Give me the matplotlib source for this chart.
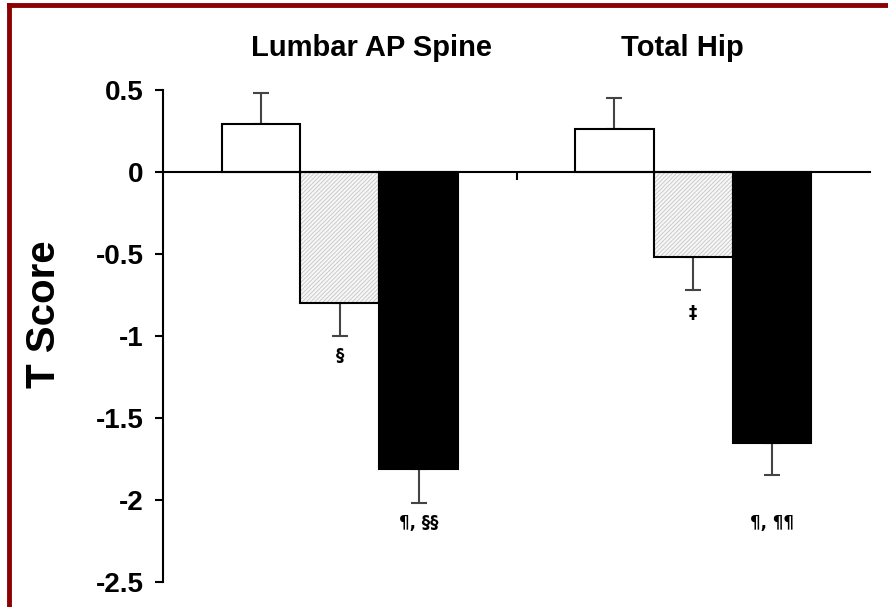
import matplotlib.pyplot as plt
import numpy as np
from matplotlib.lines import Line2D

plt.rcParams['font.family'] = ['Liberation Sans', 'DejaVu Sans']
plt.rcParams['hatch.linewidth'] = 0.5

sites = ["Lumbar AP Spine", "Total Hip"]
means = {
    "white": [0.29, 0.26],
    "hatched": [-0.80, -0.52],
    "black": [-1.81, -1.65],
}
errors = {
    "white": [0.19, 0.19],
    "hatched": [0.20, 0.20],
    "black": [0.21, 0.20],
}
marks = {
    "hatched": ["§", "‡"],
    "black": ["¶, §§", "¶, ¶¶"],
}
mark_y = {
    "hatched": [-1.12, -0.86],
    "black": [-2.14, -2.14],
}

fig = plt.figure(figsize=(8.88, 6.07), dpi=100)
ax = fig.add_axes([0.1836, 0.0412, 0.7961, 0.8105])

centers = np.array([0.5, 1.5])
w = 0.223
face = {"white": "white", "hatched": "#f6f6f6", "black": "black"}
offsets = {"white": -w, "hatched": 0.0, "black": w}

for key in ["white", "hatched", "black"]:
    x = centers + offsets[key]
    vals = np.array(means[key])
    if key == "hatched":
        # light hatch first, then a black outline on top
        ax.bar(x, vals, width=w, color=face[key], hatch="////////",
               edgecolor="#bdbdbd", linewidth=0, zorder=2)
        ax.bar(x, vals, width=w, fill=False, edgecolor="black",
               linewidth=1.5, zorder=3)
    else:
        ax.bar(x, vals, width=w, color=face[key], edgecolor="black",
               linewidth=1.5, zorder=2)
    err = np.array(errors[key])
    lower = np.where(vals < 0, err, 0)
    upper = np.where(vals > 0, err, 0)
    ax.errorbar(x, vals, yerr=[lower, upper], fmt="none", ecolor="#444444",
                elinewidth=1.5, capsize=6, capthick=1.5, zorder=1)
    if key in marks:
        for xi, my, m in zip(x, mark_y[key], marks[key]):
            ax.text(xi, my, m, ha="center", va="center", fontsize=12,
                    fontweight="bold", family=["DejaVu Sans"])

title_x = [0.59, 1.47]
for tx, s in zip(title_x, sites):
    ax.text(tx, 0.67, s, ha="center", va="bottom", fontsize=21, fontweight="bold")

ax.set_xlim(0, 2)
ax.set_ylim(-2.5, 0.5)
ax.set_yticks([0.5, 0, -0.5, -1, -1.5, -2, -2.5])
ax.set_yticklabels(["0.5", "0", "-0.5", "-1", "-1.5", "-2", "-2.5"],
                   fontsize=20, fontweight="bold")
ax.tick_params(axis="y", direction="out", length=6, width=1.5, pad=8)
ax.set_ylabel("T Score", fontsize=29, fontweight="bold")
ax.yaxis.set_label_coords(-0.142, 0.545)

ax.spines["top"].set_visible(False)
ax.spines["right"].set_visible(False)
ax.spines["bottom"].set_position(("data", 0))
ax.spines["bottom"].set_linewidth(1.5)
ax.spines["left"].set_linewidth(1.5)
ax.set_xticks([1.0])
ax.set_xticklabels([""])
ax.tick_params(axis="x", direction="out", length=6, width=1.5)

# dark red frame of the source image
fig.add_artist(Line2D([0.010, 1.0], [0.992, 0.992], transform=fig.transFigure,
                      color="#8b0000", linewidth=3.5))
fig.add_artist(Line2D([0.010, 0.010], [0.0, 0.992], transform=fig.transFigure,
                      color="#8b0000", linewidth=3.5))

fig.savefig("out.png", dpi=100)
